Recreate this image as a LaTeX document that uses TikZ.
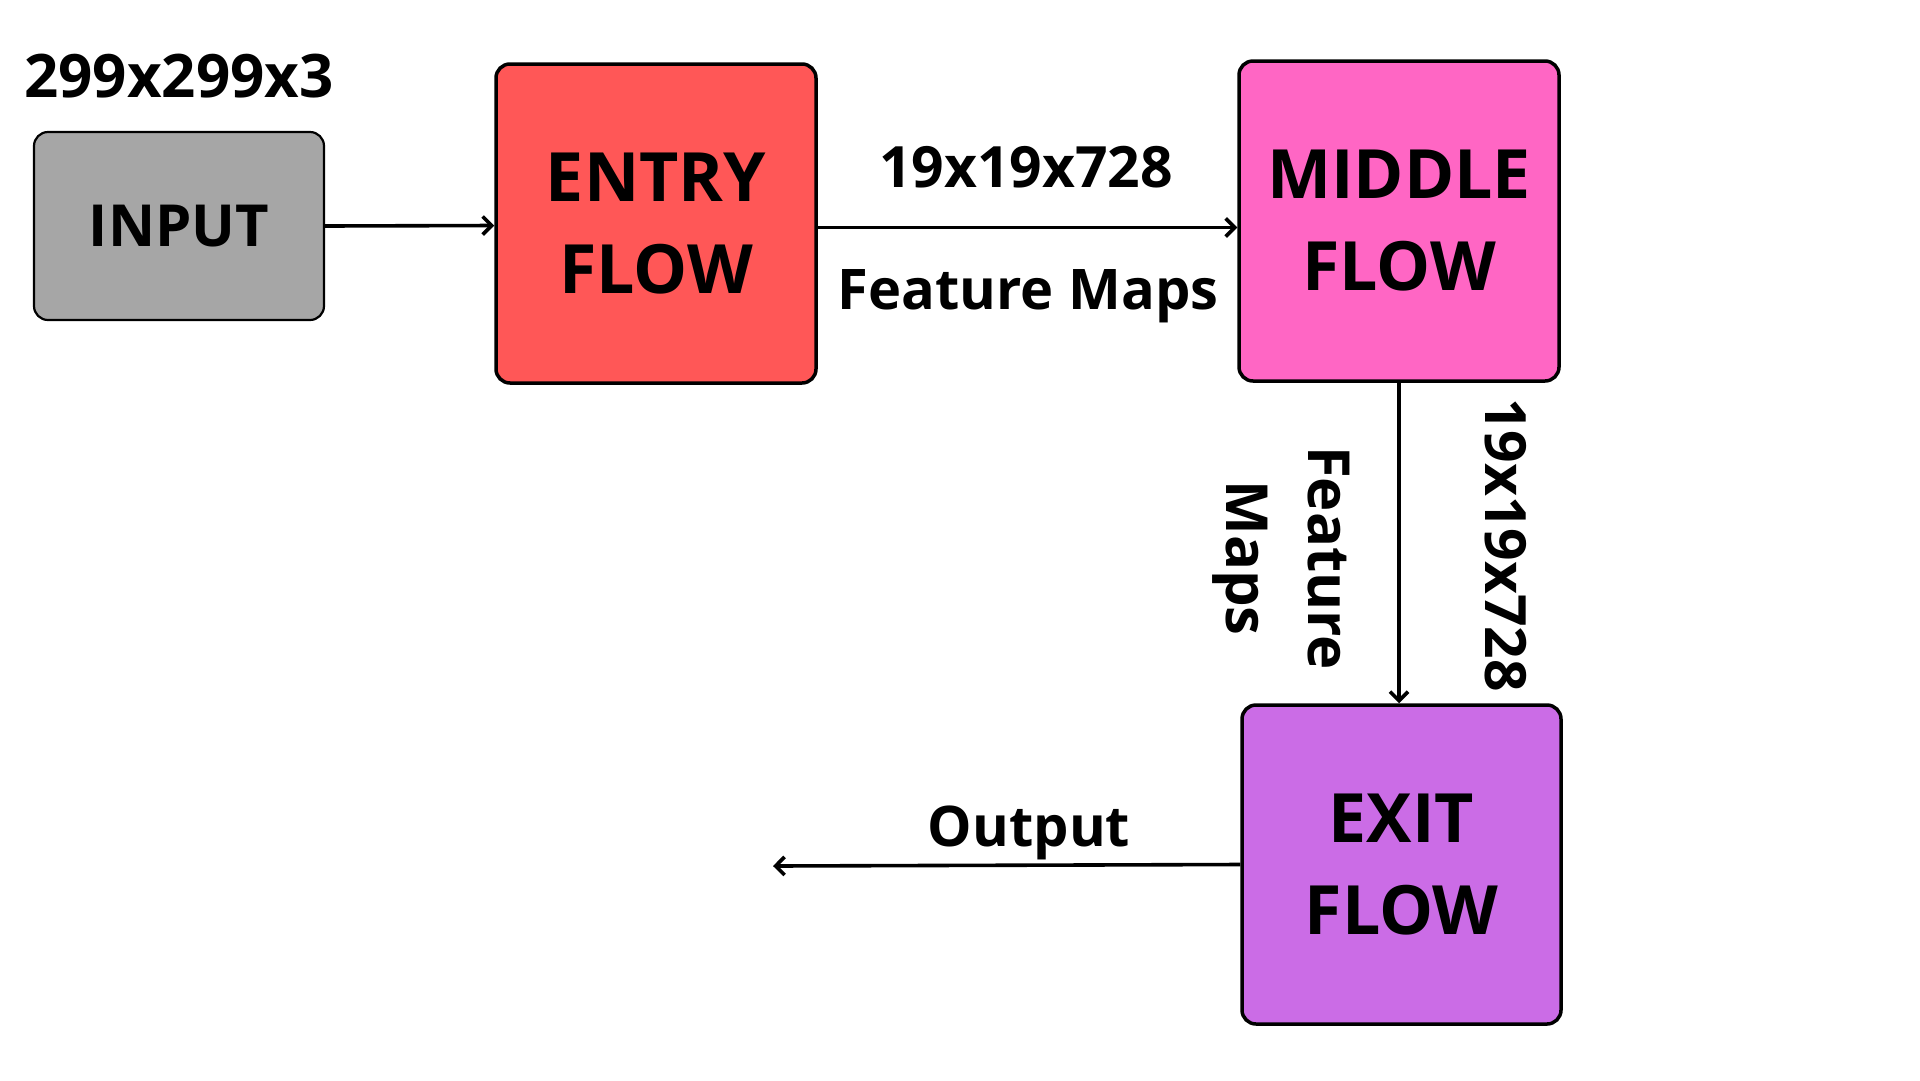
\documentclass[tikz,border=0pt]{standalone}
\usepackage{fontspec}
\setmainfont{Open Sans}
\usetikzlibrary{arrows.meta}
\definecolor{cinput}{HTML}{A6A6A6}
\definecolor{centry}{HTML}{FF5757}
\definecolor{cmiddle}{HTML}{FF66C4}
\definecolor{cexit}{HTML}{CB6CE6}
\tikzset{
  blockbox/.style={draw=black, line width=3.5pt, rounded corners=14pt, inner sep=0pt, align=center,
    font=\fontsize{68}{92}\selectfont\bfseries},
  lbl/.style={inner sep=0pt, align=center, font=\fontsize{56}{80}\selectfont\bfseries},
  conn/.style={draw=black, line width=3.6pt, -{Straight Barb[length=9pt,width=18pt,line width=3.6pt]}}
}
\begin{document}
\begin{tikzpicture}[x=1pt,y=-1pt]
\useasboundingbox[fill=white] (0,0) rectangle (1920,1080);
\node[blockbox, fill=cinput, line width=2.2pt, minimum width=290pt, minimum height=188pt,
  font=\fontsize{58}{80}\selectfont\bfseries] (input) at (179,226) {INPUT};
\node[blockbox, fill=centry, minimum width=320pt, minimum height=319pt] (entry) at (656,223.5) {ENTRY\\FLOW};
\node[blockbox, fill=cmiddle, minimum width=320pt, minimum height=320pt] (middle) at (1399,221) {MIDDLE\\FLOW};
\node[blockbox, fill=cexit, minimum width=319pt, minimum height=319pt] (exit) at (1401.5,864.5) {EXIT\\FLOW};
\node[lbl, font=\fontsize{60}{82}\selectfont\bfseries] (inlabel) at (179,76) {299x299x3};
\node[lbl, font=\fontsize{57}{80}\selectfont\bfseries] (toplabel) at (1026,167) {19x19x728};
\node[lbl] (fmlabel) at (1028,296) {Feature Maps};
\node[lbl, rotate=-90, font=\fontsize{58}{82}\selectfont\bfseries] (vfm) at (1281,558) {Feature\\Maps};
\node[lbl, rotate=-90, font=\fontsize{57}{80}\selectfont\bfseries] (vdim) at (1506,545) {19x19x728};
\node[lbl] (outlabel) at (1029,833) {Output};
\coordinate (outend) at (773,866);
\draw[conn] (input.east) -- ([yshift=-2pt]entry.west);
\draw[conn] ([yshift=-4pt]entry.east) -- ([yshift=-4pt]entry.east -| middle.west);
\draw[conn] (middle.south) -- (middle.south |- exit.north);
\draw[conn] (exit.west) -- (outend);
\end{tikzpicture}
\end{document}
